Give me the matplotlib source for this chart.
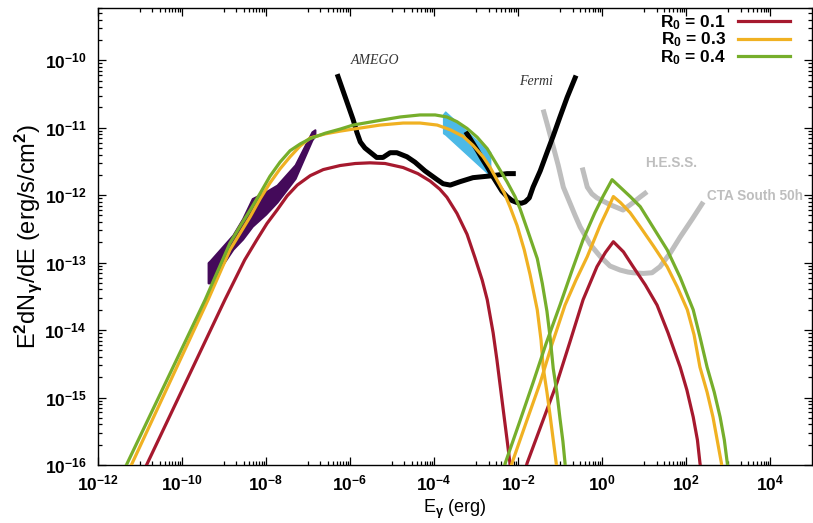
import numpy as np
import matplotlib
matplotlib.use("Agg")
import matplotlib.pyplot as plt
from matplotlib.ticker import FixedLocator, FuncFormatter, LogLocator, NullFormatter

plt.rcParams['font.family'] = ['Liberation Sans', 'DejaVu Sans']
plt.rcParams['font.weight'] = 'bold'
plt.rcParams['mathtext.fontset'] = 'custom'
plt.rcParams['mathtext.rm'] = 'Liberation Sans:bold'
plt.rcParams['mathtext.bf'] = 'Liberation Sans:bold'
plt.rcParams['mathtext.it'] = 'Liberation Sans:bold'
plt.rcParams['mathtext.default'] = 'bf'

# all values are log10(E / erg) and log10(E^2 dN/dE / erg s^-1 cm^-2)

# R0 = 0.1
red_lo_x = [-10.91, -8.97, -8.50, -8.21, -7.97, -7.73, -7.49, -7.25, -6.94, -6.63, -6.23, -5.87, -5.52, -5.16,
            -4.73, -4.38, -4.09, -3.86, -3.69, -3.45, -3.21, -3.02, -2.85, -2.73, -2.59, -2.50, -2.35, -2.26, -2.19, -2.14]
red_lo_y = [-16.10, -13.55, -12.96, -12.66, -12.42, -12.22, -12.01, -11.85, -11.71, -11.62, -11.56, -11.53, -11.52, -11.53,
            -11.59, -11.68, -11.79, -11.91, -12.03, -12.27, -12.58, -12.93, -13.26, -13.55, -14.04, -14.44, -15.18, -15.62, -15.97, -16.22]
red_hi_x = [-1.84, -1.78, -1.47, -1.07, -0.76, -0.45, -0.12, 0.08, 0.27, 0.51, 0.74, 1.03, 1.31, 1.57, 1.86, 2.02, 2.17, 2.27, 2.33, 2.37]
red_hi_y = [-16.10, -15.97, -15.45, -14.78, -14.17, -13.55, -13.06, -12.85, -12.69, -12.84, -13.06, -13.33, -13.63, -14.04, -14.55, -14.89, -15.29, -15.63, -15.97, -16.15]

# R0 = 0.3
orange_lo_x = [-11.27, -9.37, -8.85, -8.37, -8.13, -7.90, -7.66, -7.42, -7.18, -6.94, -6.58, -6.23, -5.92, -5.28, -4.73,
               -4.33, -3.92, -3.61, -3.30, -3.07, -2.83, -2.66, -2.50, -2.33, -2.19, -2.02, -1.85, -1.71, -1.54, -1.45,
               -1.40, -1.31, -1.23, -1.16, -1.09, -1.07]
orange_lo_y = [-16.10, -13.55, -12.81, -12.32, -12.05, -11.82, -11.61, -11.43, -11.27, -11.15, -11.09, -11.05, -11.02, -10.96, -10.93,
               -10.93, -10.96, -11.03, -11.13, -11.26, -11.43, -11.59, -11.77, -11.96, -12.17, -12.45, -12.81, -13.18, -13.70, -14.15,
               -14.55, -14.92, -15.29, -15.63, -15.97, -16.15]
orange_hi_x = [-2.20, -2.14, -1.81, -1.47, -1.19, -0.88, -0.62, -0.35, -0.04, 0.12, 0.27, 0.44, 0.67, 0.91, 1.22, 1.55,
               1.79, 2.03, 2.19, 2.33, 2.50, 2.64, 2.74, 2.84, 2.87]
orange_hi_y = [-16.10, -15.97, -15.38, -14.78, -14.21, -13.63, -13.26, -12.91, -12.44, -12.23, -12.02, -12.11, -12.26, -12.47, -12.75, -13.06,
               -13.36, -13.70, -14.07, -14.55, -14.92, -15.29, -15.63, -15.97, -16.15]

# R0 = 0.4
green_lo_x = [-11.39, -9.44, -8.85, -8.61, -8.37, -8.13, -7.90, -7.66, -7.42, -7.18, -6.94, -6.58, -6.23, -5.92, -5.28,
              -4.80, -4.33, -3.97, -3.69, -3.45, -3.21, -2.97, -2.73, -2.50, -2.26, -2.07, -1.95, -1.76, -1.54, -1.42,
              -1.31, -1.23, -1.16, -1.07, -1.00, -0.93, -0.88, -0.86]
green_lo_y = [-16.10, -13.55, -12.71, -12.46, -12.22, -11.97, -11.72, -11.51, -11.34, -11.24, -11.16, -11.08, -11.02, -10.96, -10.89,
              -10.84, -10.81, -10.81, -10.84, -10.91, -11.01, -11.14, -11.31, -11.55, -11.80, -12.02, -12.20, -12.54, -12.94, -13.31,
              -13.72, -14.13, -14.57, -14.94, -15.31, -15.65, -15.97, -16.15]
green_hi_x = [-2.36, -2.30, -1.97, -1.64, -1.33, -1.00, -0.71, -0.45, -0.17, 0.03, 0.24, 0.43, 0.67, 0.91, 1.22, 1.55,
              1.86, 2.17, 2.33, 2.50, 2.67, 2.81, 2.91, 2.98, 3.01]
green_hi_y = [-16.10, -15.97, -15.38, -14.78, -14.20, -13.63, -13.11, -12.66, -12.26, -12.01, -11.77, -11.88, -12.02, -12.17, -12.48, -12.81,
              -13.22, -13.70, -14.10, -14.55, -14.92, -15.29, -15.63, -15.97, -16.15]

# data bands
purple_x = [-9.37, -9.32, -8.78, -8.55, -8.32, -8.00, -7.73, -7.30, -6.90, -6.83]
purple_top = [-13.00, -12.97, -12.59, -12.35, -12.05, -11.95, -11.85, -11.55, -11.06, -11.03]
purple_bot = [-13.30, -13.30, -12.80, -12.65, -12.46, -12.28, -12.10, -11.75, -11.18, -11.12]
blue_x = [-3.78, -3.73, -2.73, -2.66]
blue_top = [-10.80, -10.76, -11.33, -11.36]
blue_bot = [-11.08, -11.10, -11.67, -11.64]

# instrument sensitivities
amego_x = [-6.28, -6.10, -5.92, -5.83, -5.75, -5.64, -5.52, -5.36, -5.21, -5.04, -4.88, -4.64, -4.45, -4.21, -3.92,
           -3.78, -3.61, -3.38, -3.07, -2.59, -2.26, -2.11]
amego_y = [-10.24, -10.56, -10.88, -11.07, -11.21, -11.30, -11.36, -11.44, -11.44, -11.37, -11.37, -11.43, -11.51, -11.64, -11.77,
           -11.83, -11.85, -11.80, -11.74, -11.71, -11.68, -11.68]
fermi_x = [-3.21, -3.14, -2.97, -2.85, -2.73, -2.61, -2.50, -2.38, -2.26, -2.14, -2.02, -1.92, -1.83, -1.73, -1.64, -1.47,
           -1.31, -1.16, -1.00, -0.83, -0.64]
fermi_y = [-11.09, -11.16, -11.33, -11.46, -11.58, -11.71, -11.82, -11.94, -12.02, -12.08, -12.11, -12.12, -12.10, -12.04, -11.88, -11.64,
           -11.37, -11.12, -10.84, -10.55, -10.26]
cta_x = [-1.40, -1.28, -1.16, -1.04, -0.92, -0.64, -0.52, -0.28, -0.04, 0.19, 0.43, 0.62, 0.74, 0.98, 1.19, 1.38, 1.62,
         1.86, 2.14, 2.41]
cta_y = [-10.73, -11.00, -11.28, -11.56, -11.88, -12.30, -12.47, -12.73, -12.91, -13.05, -13.11, -13.14, -13.15, -13.16, -13.15, -13.06, -12.86,
         -12.62, -12.36, -12.10]
hess_x = [-0.47, -0.35, -0.24, -0.12, 0.19, 0.50, 0.74, 0.90, 1.07]
hess_y = [-11.59, -11.88, -11.98, -12.04, -12.14, -12.22, -12.11, -12.03, -11.95]


def p(v):
    return 10.0 ** np.array(v)


fig = plt.figure(figsize=(8.13, 5.23), dpi=100)
ax = fig.add_axes([0.120, 0.111, 0.879, 0.874])

gray = "#bebebe"
ax.plot(p(cta_x), p(cta_y), color=gray, lw=3.6, zorder=1, solid_capstyle='butt')
ax.plot(p(hess_x), p(hess_y), color=gray, lw=3.6, zorder=1, solid_capstyle='butt')
ax.fill_between(p(purple_x), p(purple_bot), p(purple_top), color="#440a5a", lw=1.5, edgecolor="#440a5a", zorder=2)
ax.fill_between(p(blue_x), p(blue_bot), p(blue_top), color="#4cb9e6", lw=1, edgecolor="#4cb9e6", zorder=2)
ax.plot(p(amego_x), p(amego_y), color="black", lw=3.6, zorder=3)
ax.plot(p(fermi_x), p(fermi_y), color="black", lw=3.6, zorder=3)

colors = {"0.1": "#a6192e", "0.3": "#f0b122", "0.4": "#76ae2b"}
ax.plot(p(red_lo_x), p(red_lo_y), color=colors["0.1"], lw=2.3, zorder=4, label=r"R$_0$ = 0.1")
ax.plot(p(red_hi_x), p(red_hi_y), color=colors["0.1"], lw=2.3, zorder=4)
ax.plot(p(orange_lo_x), p(orange_lo_y), color=colors["0.3"], lw=2.3, zorder=4, label=r"R$_0$ = 0.3")
ax.plot(p(orange_hi_x), p(orange_hi_y), color=colors["0.3"], lw=2.3, zorder=4)
ax.plot(p(green_lo_x), p(green_lo_y), color=colors["0.4"], lw=2.3, zorder=4, label=r"R$_0$ = 0.4")
ax.plot(p(green_hi_x), p(green_hi_y), color=colors["0.4"], lw=2.3, zorder=4)

# instrument names
ax.text(4e-6, 1.0e-10, "AMEGO", family="Liberation Serif", style="italic", weight="normal",
        fontsize=10, color="#333333", ha="center", va="center")
ax.text(2.7e-2, 4.8e-11, "Fermi", family="Liberation Serif", style="italic", weight="normal",
        fontsize=10, color="#333333", ha="center", va="center")
ax.text(44, 3.0e-12, "H.E.S.S.", fontsize=9.8, color=gray, ha="center", va="center")
ax.text(316, 9.8e-13, "CTA South 50h", fontsize=9.8, color=gray, ha="left", va="center")

ax.set_xscale("log")
ax.set_yscale("log")
ax.set_xlim(1e-12, 1e5)
ax.set_ylim(1e-16, 6e-10)

ax.xaxis.set_major_locator(FixedLocator([10.0 ** k for k in range(-12, 5, 2)]))
ax.xaxis.set_minor_locator(FixedLocator([m * 10.0 ** k for k in range(-11, 5, 2) for m in range(1, 10)]))
ax.yaxis.set_major_locator(FixedLocator([10.0 ** k for k in range(-16, -9)]))
ax.yaxis.set_minor_locator(LogLocator(base=10, subs=np.arange(2, 10), numticks=30))
fmt = FuncFormatter(lambda v, pos: r"$10^{%d}$" % round(np.log10(v)))
ax.xaxis.set_major_formatter(fmt)
ax.yaxis.set_major_formatter(fmt)
ax.xaxis.set_minor_formatter(NullFormatter())
ax.yaxis.set_minor_formatter(NullFormatter())

ax.tick_params(which="both", direction="in", top=True, right=True, labelsize=12.5, width=0.9)
ax.tick_params(axis="x", which="major", length=6, pad=6)
ax.tick_params(axis="y", which="major", length=6, pad=8)
ax.tick_params(which="minor", length=3)
for s in ax.spines.values():
    s.set_linewidth(1.0)

ax.set_xlabel(r"E$_\gamma$ (erg)", fontsize=13, labelpad=3)
ax.set_ylabel(r"E$^2$dN$_\gamma$/dE (erg/s/cm$^2$)", fontsize=17, labelpad=0)

leg = ax.legend(loc="upper right", bbox_to_anchor=(0.969, 0.988), markerfirst=False, frameon=False,
                fontsize=12.5, handlelength=3.0, handletextpad=0.7, labelspacing=-0.08,
                borderaxespad=0.0, borderpad=0.0)

fig.savefig("out.png", dpi=100)
